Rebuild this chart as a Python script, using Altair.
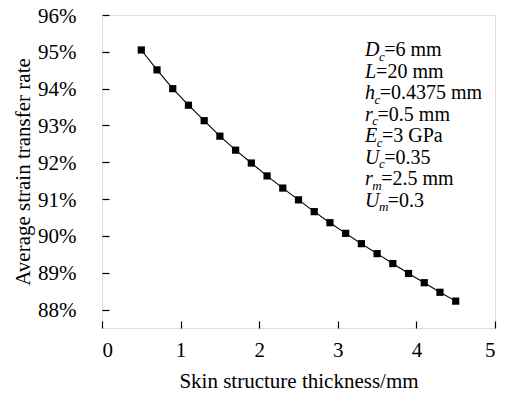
import altair as alt
import pandas as pd

# ---- data ----
thickness = [0.5, 0.7, 0.9, 1.1, 1.3, 1.5, 1.7, 1.9, 2.1, 2.3, 2.5,
             2.7, 2.9, 3.1, 3.3, 3.5, 3.7, 3.9, 4.1, 4.3, 4.5]
rate = [95.05, 94.51, 94.00, 93.55, 93.13, 92.71, 92.33, 91.98, 91.63, 91.30, 90.98,
        90.66, 90.36, 90.07, 89.79, 89.52, 89.25, 88.98, 88.73, 88.47, 88.23]
x_ticks = [0, 1, 2, 3, 4, 5]
y_ticks = [88, 89, 90, 91, 92, 93, 94, 95, 96]
param_symbol = ["D", "L", "h", "r", "E", "U", "r", "U"]
param_sub = ["c", "", "c", "c", "c", "c", "m", "m"]
param_rest = ["=6 mm", "=20 mm", "=0.4375 mm", "=0.5 mm", "=3 GPa", "=0.35", "=2.5 mm", "=0.3"]

# ---- layout ----
W, H = 393, 313
FONT = "Liberation Serif"
FS = 21
ANN_FS = 20
SUB_FS = 13
X_DOM = [0, 5]
Y_DOM = [87.5, 96]

df = pd.DataFrame({"t": thickness, "r": rate})

# annotation pieces (placed in data coordinates)
ital_w = {"D": 0.722, "L": 0.556, "h": 0.5, "r": 0.389, "E": 0.611, "U": 0.722,
          "c": 0.444, "m": 0.722}
x0_px, y0_px, step_px = 263, 41, 21.5
rows = []
for i, (s, sub, rest) in enumerate(zip(param_symbol, param_sub, param_rest)):
    by = y0_px + i * step_px
    px = x0_px
    rows.append({"text": s, "px": px, "py": by, "kind": "main"})
    px += ital_w[s] * ANN_FS
    if sub:
        rows.append({"text": sub, "px": px - 0.5, "py": by + 4.5, "kind": "sub"})
        px += ital_w[sub] * SUB_FS - 1
    rows.append({"text": rest, "px": px, "py": by, "kind": "rest"})
ann = pd.DataFrame(rows)
ann["xd"] = X_DOM[0] + ann["px"] / W * (X_DOM[1] - X_DOM[0])
ann["yd"] = Y_DOM[1] - ann["py"] / H * (Y_DOM[1] - Y_DOM[0])

xs = alt.Scale(domain=X_DOM, nice=False, zero=False)
ys = alt.Scale(domain=Y_DOM, nice=False, zero=False)

line = alt.Chart(df).mark_line(color="black", strokeWidth=1.1).encode(
    x=alt.X("t:Q", scale=xs, axis=alt.Axis(
        values=x_ticks, title="Skin structure thickness/mm", ticks=False, domain=False,
        grid=False, labelPadding=11, titlePadding=10, format="d",
        labelFont=FONT, titleFont=FONT, labelFontSize=FS, titleFontSize=FS,
        titleFontWeight="normal", labelColor="black", titleColor="black")),
    y=alt.Y("r:Q", scale=ys, axis=alt.Axis(
        values=y_ticks, title="Average strain transfer rate", ticks=False, domain=False,
        grid=False, labelPadding=26, titlePadding=4, labelOffset=1,
        labelExpr="datum.value + '%'",
        labelFont=FONT, titleFont=FONT, labelFontSize=FS, titleFontSize=FS,
        titleFontWeight="normal", labelColor="black", titleColor="black")),
)

pts = alt.Chart(df).mark_point(shape="square", filled=True, color="black", size=52, opacity=1).encode(
    x=alt.X("t:Q", scale=xs, axis=alt.Axis(
        orient="top", offset=-H, values=x_ticks, labels=False, domain=False, grid=False,
        ticks=True, tickSize=7, tickColor="black", tickWidth=1.2, title=None)),
    y=alt.Y("r:Q", scale=ys, axis=alt.Axis(
        orient="right", offset=-W, values=y_ticks, labels=False, domain=False, grid=False,
        ticks=True, tickSize=7, tickColor="black", tickWidth=1.2, title=None)),
)

def ann_layer(kind, size, style):
    return alt.Chart(ann).transform_filter(alt.datum.kind == kind).mark_text(
        align="left", baseline="alphabetic", font=FONT, fontSize=size,
        fontStyle=style, color="black").encode(
        x=alt.X("xd:Q", scale=xs, axis=None),
        y=alt.Y("yd:Q", scale=ys, axis=None),
        text="text:N")

chart = alt.layer(
    line, pts,
    ann_layer("main", ANN_FS, "italic"),
    ann_layer("sub", SUB_FS, "italic"),
    ann_layer("rest", ANN_FS, "normal"),
).resolve_axis(x="independent", y="independent").properties(
    width=W, height=H,
    autosize=alt.AutoSizeParams(type="none"),
    padding={"left": 94, "top": 7, "right": 2, "bottom": 64},
).configure_view(stroke="black", strokeWidth=1.5).configure(background="white")

chart.save("out.html", embed_options={"renderer": "svg", "actions": False})
